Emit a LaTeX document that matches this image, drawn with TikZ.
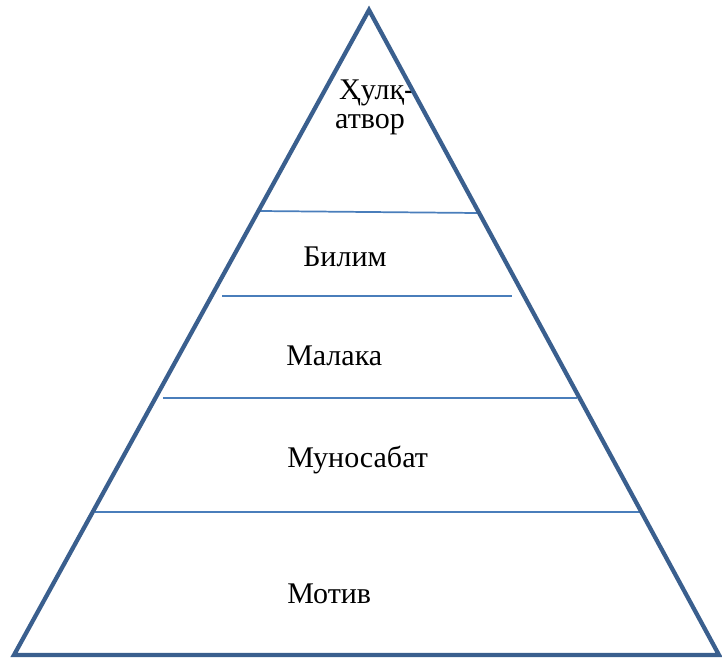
\documentclass[tikz,border=0pt]{standalone}
\usepackage{fontspec}
\setmainfont{Liberation Serif}
\definecolor{edgeblue}{HTML}{3A5F8E}
\definecolor{layerblue}{HTML}{4A7EBB}
\tikzset{%
  pyramid/.style ={draw=edgeblue, line width=3.2pt, line join=miter},
  layer/.style   ={draw=layerblue, line width=1.3pt},
  lbl/.style     ={inner sep=0pt, anchor=base west,
                   font=\fontsize{22.5}{24.75}\selectfont},
}
\begin{document}
\begin{tikzpicture}[x=0.75pt, y=-0.75pt]
  \useasboundingbox (0,0) rectangle (722,658);
  \coordinate (top) at (369, 10);
  \coordinate (bl) at (14, 655);
  \coordinate (br) at (719, 655);
  \coordinate (l1a) at (260, 211); \coordinate (l1b) at (478, 213);
  \coordinate (l2a) at (222, 296); \coordinate (l2b) at (512, 296);
  \coordinate (l3a) at (163, 398); \coordinate (l3b) at (577, 398);
  \coordinate (l4a) at (95, 512);  \coordinate (l4b) at (643, 512);
  \node[lbl, anchor=base, align=center] (hulq) at (370, 128) {\hspace*{10pt}Ҳулқ-\\[-3pt]атвор};
  \node[lbl] (bilim) at (303, 266) {Билим};
  \node[lbl] (malaka) at (286, 365) {Малака};
  \node[lbl] (munos) at (287, 467) {Муносабат};
  \node[lbl] (motiv) at (287, 603) {Мотив};
  \draw[layer] (l1a) -- (l1b);
  \draw[layer] (l2a) -- (l2b);
  \draw[layer] (l3a) -- (l3b);
  \draw[layer] (l4a) -- (l4b);
  \draw[pyramid] (top) -- (br) -- (bl) -- cycle;
\end{tikzpicture}
\end{document}
